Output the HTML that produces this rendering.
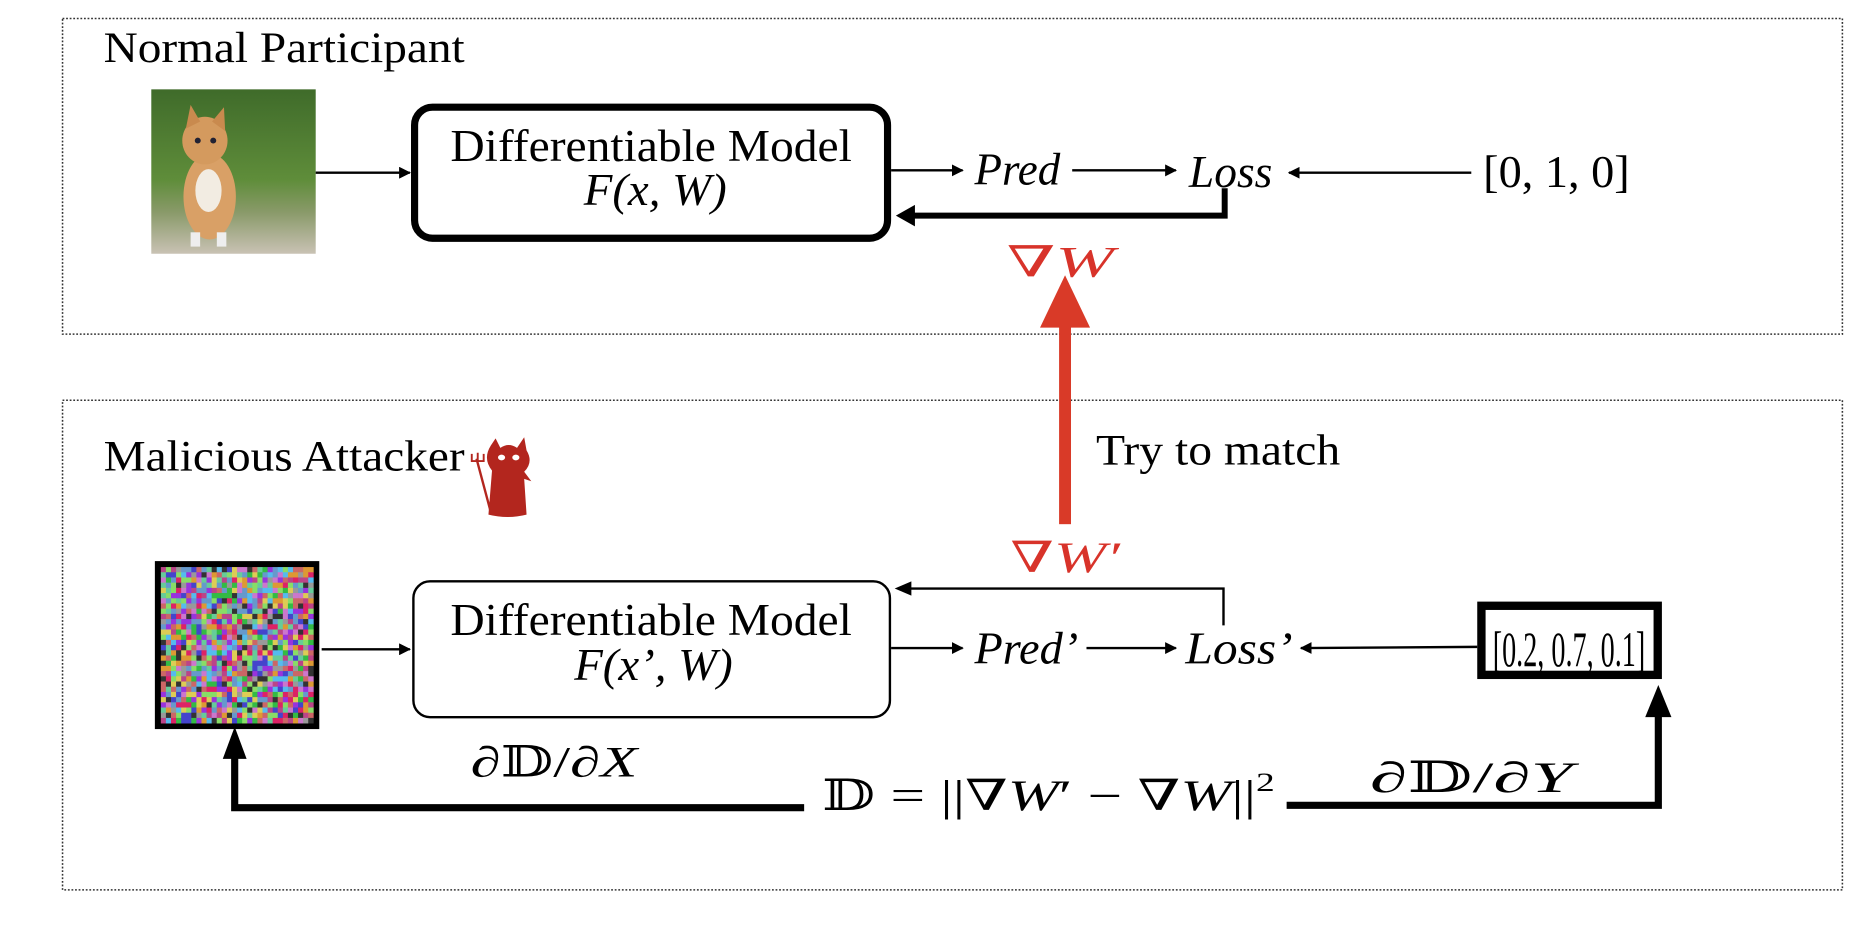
<!DOCTYPE html>
<html><head><meta charset="utf-8"><style>
html,body{margin:0;padding:0;background:#fff;}
svg{display:block;}
text{font-family:"Liberation Serif","DejaVu Serif",serif;fill:#000;}
</style></head><body>
<svg id="s" width="1868" height="926" viewBox="0 0 1568 777.3" preserveAspectRatio="none" xmlns="http://www.w3.org/2000/svg">
<defs>
<marker id="ah" markerWidth="10" markerHeight="10" refX="9" refY="5" orient="auto" markerUnits="userSpaceOnUse"><path d="M0,0 L10,5 L0,10 z" fill="#000"/></marker>
<linearGradient id="cg" x1="0" y1="0" x2="0" y2="1"><stop offset="0" stop-color="#3f6b2a"/><stop offset="0.55" stop-color="#5f8d3a"/><stop offset="0.75" stop-color="#8a9a6a"/><stop offset="1" stop-color="#c9c2b4"/></linearGradient>
</defs>
<rect x="52.5" y="15.5" width="1494" height="265" fill="none" stroke="#333" stroke-width="1.3" stroke-dasharray="1.5 1.5"/>
<rect x="52.5" y="336" width="1494" height="411" fill="none" stroke="#333" stroke-width="1.3" stroke-dasharray="1.5 1.5"/>
<text x="87" y="52" font-size="36" textLength="303" lengthAdjust="spacingAndGlyphs">Normal Participant</text>
<text x="87" y="395" font-size="36" textLength="303" lengthAdjust="spacingAndGlyphs">Malicious Attacker</text>
<g fill="#b3261e">
<path d="M410,432 L413,395 Q405,385 412,374 L416,368 L420,376 Q427,371 434,376 L440,367 L442,378 Q448,388 440,396 L446,404 L440,402 L442,432 Q426,436 410,432z"/>
<path d="M400,385 L412,430" stroke="#b3261e" stroke-width="2"/>
<path d="M396,381 v6 h10 v-6 M401,380 v7" stroke="#b3261e" stroke-width="1.6" fill="none"/>
</g>
<ellipse cx="421" cy="384" rx="3" ry="2.4" fill="#fff"/><ellipse cx="433" cy="384" rx="3" ry="2.4" fill="#fff"/>
<rect x="127" y="75" width="138" height="138" fill="url(#cg)"/>
<ellipse cx="176" cy="165" rx="22" ry="36" fill="#d9a066"/>
<ellipse cx="172" cy="118" rx="19" ry="20" fill="#d49a5e"/>
<path d="M156,108 L160,88 L168,102z M178,102 L188,90 L189,110z" fill="#c98a4e"/>
<ellipse cx="175" cy="160" rx="11" ry="18" fill="#f2ece2"/>
<circle cx="166" cy="118" r="2.5" fill="#223"/><circle cx="179" cy="118" r="2.5" fill="#223"/>
<rect x="160" y="195" width="8" height="12" fill="#eee"/><rect x="182" y="195" width="8" height="12" fill="#eee"/>
<line x1="265" y1="145" x2="344" y2="145" stroke="#000" stroke-width="2" marker-end="url(#ah)"/>
<rect x="348" y="90" width="397" height="110" rx="15" fill="none" stroke="#000" stroke-width="6"/>
<text x="378" y="135" font-size="38" textLength="337" lengthAdjust="spacingAndGlyphs">Differentiable Model</text>
<text x="490" y="172" font-size="38" font-style="italic" textLength="120" lengthAdjust="spacingAndGlyphs">F(x, W)</text>
<line x1="748" y1="143" x2="808" y2="143" stroke="#000" stroke-width="2" marker-end="url(#ah)"/>
<text x="818" y="155" font-size="38" font-style="italic" textLength="72" lengthAdjust="spacingAndGlyphs">Pred</text>
<line x1="900" y1="143" x2="987" y2="143" stroke="#000" stroke-width="2" marker-end="url(#ah)"/>
<text x="998" y="157" font-size="38" font-style="italic" textLength="70" lengthAdjust="spacingAndGlyphs">Loss</text>
<line x1="1235" y1="145" x2="1082" y2="145" stroke="#000" stroke-width="2" marker-end="url(#ah)"/>
<text x="1245" y="157" font-size="38" textLength="123" lengthAdjust="spacingAndGlyphs">[0, 1, 0]</text>
<polyline points="1028,158 1028,181 766,181" fill="none" stroke="#000" stroke-width="5"/>
<path d="M752,181 L768,172 L768,190z" fill="#000"/>
<text x="845" y="232" font-size="36" font-style="italic" style="fill:#d8332a" textLength="90" lengthAdjust="spacingAndGlyphs">∇W</text>
<rect x="889" y="273" width="10" height="167" fill="#d93a28"/>
<path d="M894,231 L873,275 L915,275z" fill="#d93a28"/>
<text x="920" y="390" font-size="36" textLength="205" lengthAdjust="spacingAndGlyphs">Try to match</text>
<text x="848" y="480" font-size="36" font-style="italic" style="fill:#d8332a" textLength="92" lengthAdjust="spacingAndGlyphs">∇W′</text>
<rect x="130" y="471" width="138" height="141" fill="#000"/>
<g id="noise"></g>
<line x1="270" y1="545" x2="344" y2="545" stroke="#000" stroke-width="2" marker-end="url(#ah)"/>
<rect x="347" y="488" width="400" height="114" rx="14" fill="none" stroke="#000" stroke-width="2"/>
<text x="378" y="533" font-size="38" textLength="337" lengthAdjust="spacingAndGlyphs">Differentiable Model</text>
<text x="482" y="571" font-size="38" font-style="italic" textLength="133" lengthAdjust="spacingAndGlyphs">F(x’, W)</text>
<line x1="748" y1="544" x2="808" y2="544" stroke="#000" stroke-width="2" marker-end="url(#ah)"/>
<text x="818" y="557" font-size="38" font-style="italic" textLength="87" lengthAdjust="spacingAndGlyphs">Pred’</text>
<line x1="912" y1="544" x2="987" y2="544" stroke="#000" stroke-width="2" marker-end="url(#ah)"/>
<text x="995" y="557" font-size="38" font-style="italic" textLength="90" lengthAdjust="spacingAndGlyphs">Loss’</text>
<line x1="1240" y1="543" x2="1092" y2="544" stroke="#000" stroke-width="2" marker-end="url(#ah)"/>
<polyline points="1027,525 1027,494 758,494" fill="none" stroke="#000" stroke-width="2"/>
<path d="M751,494 L765,488 L765,500z" fill="#000"/>
<rect x="1243.5" y="508.5" width="148" height="58" fill="none" stroke="#000" stroke-width="7"/>
<text x="1253" y="559" font-size="42" textLength="128" lengthAdjust="spacingAndGlyphs">[0.2, 0.7, 0.1]</text>
<text x="690" y="680" font-size="36" textLength="380" lengthAdjust="spacingAndGlyphs">𝔻 = ||∇<tspan font-style="italic">W</tspan>′ − ∇<tspan font-style="italic">W</tspan>||<tspan font-size="22" dy="-16">2</tspan></text>
<polyline points="675,678 197,678 197,636" fill="none" stroke="#000" stroke-width="6"/>
<path d="M197,610 L187,637 L207,637z" fill="#000"/>
<polyline points="1080,676 1392,676 1392,600" fill="none" stroke="#000" stroke-width="6"/>
<path d="M1392,575 L1381,602 L1403,602z" fill="#000"/>
<text x="395" y="652" font-size="36" textLength="140" lengthAdjust="spacingAndGlyphs">∂𝔻/∂<tspan font-style="italic">X</tspan></text>
<text x="1150" y="665" font-size="36" textLength="170" lengthAdjust="spacingAndGlyphs">∂𝔻/∂<tspan font-style="italic">Y</tspan></text>
</svg>
<script>
(function(){var g=document.getElementById('noise');var s=12345;function r(){s=(s*1103515245+12345)&0x7fffffff;return s/0x7fffffff;}
var cols=['#d26','#3b4','#44c','#c7c','#8d6','#5be','#d93','#93d','#dc5','#b48','#69c','#333','#6c9','#c66','#999'];
var h='';var n=30,x0=135,y0=476,w=128/n,hh=131/n;
for(var i=0;i<n;i++)for(var j=0;j<n;j++){h+='<rect x="'+(x0+j*w).toFixed(2)+'" y="'+(y0+i*hh).toFixed(2)+'" width="'+(w+0.3).toFixed(2)+'" height="'+(hh+0.3).toFixed(2)+'" fill="'+cols[Math.floor(r()*cols.length)]+'"/>';}
g.innerHTML=h;})();
</script>
</body></html>
